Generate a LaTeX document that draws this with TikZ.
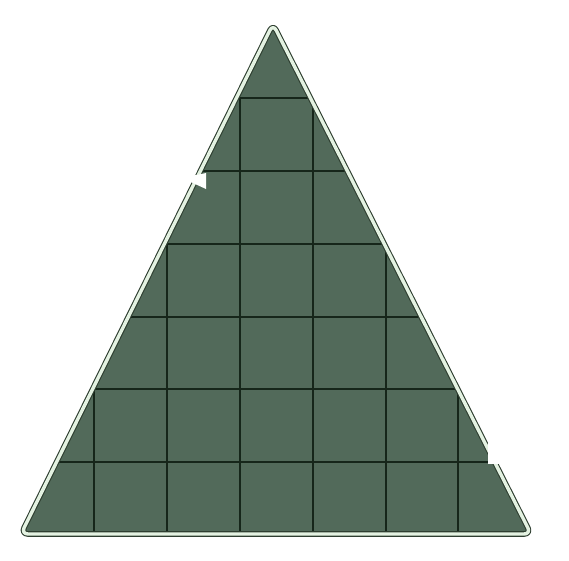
\documentclass[tikz,border=0pt]{standalone}
\definecolor{trifill}{HTML}{526A5A}
\definecolor{gridcol}{HTML}{16261A}
\definecolor{edgepale}{HTML}{E4F2E2}
\definecolor{edgedark}{HTML}{2E3E30}
\tikzset{
  gridline/.style={draw=gridcol, line width=1.8pt},
  notch/.style={fill=white, draw=none},
}
\begin{document}
\begin{tikzpicture}[x=1pt,y=-1pt]
\useasboundingbox (0,0) rectangle (569,560);
\coordinate (apex) at (273,24);
\coordinate (bl) at (21,534);
\coordinate (br) at (531,534);
% body
\fill[trifill, rounded corners=7pt] (apex) -- (br) -- (bl) -- cycle;
% grid
\begin{scope}
  \clip[rounded corners=7pt] (apex) -- (br) -- (bl) -- cycle;
  \foreach \x in {94,167,240,313,386,458} {
    \coordinate (vt\x) at (\x,98);
    \coordinate (vb\x) at (\x,540);
    \draw[gridline] (vt\x) -- (vb\x);
  }
  \foreach \y in {98,171,244,317,389,462} {
    \coordinate (hl\y) at (0,\y);
    \coordinate (hr\y) at (569,\y);
    \draw[gridline] (hl\y) -- (hr\y);
  }
\end{scope}
% outline
\draw[edgedark, line width=5.6pt, rounded corners=7pt, line join=round] (apex) -- (br) -- (bl) -- cycle;
\draw[edgepale, line width=3.4pt, rounded corners=7pt, line join=round] (apex) -- (br) -- (bl) -- cycle;
% notches
\coordinate (n1) at (488,436);
\coordinate (n2) at (508,464);
\fill[notch] (n1) rectangle (n2);
\coordinate (w1) at (182,178);
\coordinate (w2) at (206,173);
\coordinate (w3) at (206,189);
\fill[notch] (w1) -- (w2) -- (w3) -- cycle;
\end{tikzpicture}
\end{document}
